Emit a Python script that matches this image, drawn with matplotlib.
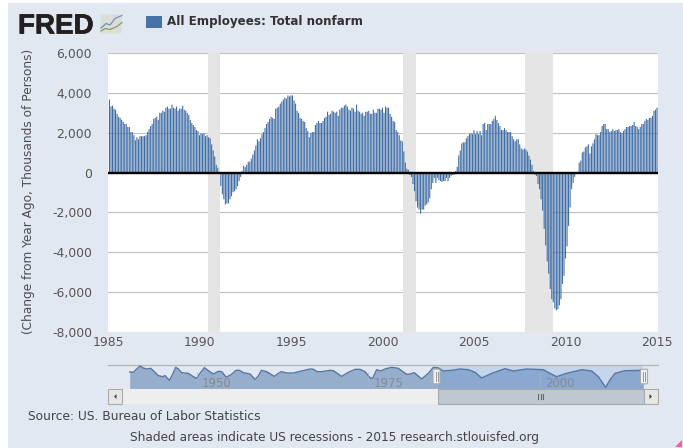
import numpy as np
import matplotlib
matplotlib.use("Agg")
import matplotlib.pyplot as plt
import matplotlib.patheffects as pe
from matplotlib.patches import Rectangle, FancyBboxPatch, Polygon

W, H = 683, 448

# change from year ago, thousands of persons, one row per year 1985-2014
yoy_change = [
    3655, 3315, 3350, 3195, 3145, 2940, 2790, 2735, 2635, 2535, 2430, 2430,
    2280, 2280, 2025, 2025, 1870, 1615, 1770, 1665, 1820, 1820, 1820, 1820,
    1870, 2025, 2175, 2330, 2430, 2685, 2735, 2790, 2635, 2990, 2990, 3095,
    3045, 3245, 3300, 3195, 3195, 3400, 3245, 3195, 3300, 3095, 3195, 3195,
    3350, 3145, 3095, 2990, 2890, 2635, 2480, 2380, 2280, 2125, 2075, 1870,
    1970, 1920, 1970, 1820, 1870, 1770, 1715, 1410, 1105, 800, 390, 240,
    -70, -680, -1090, -1340, -1600, -1545, -1545, -1340, -1190, -985, -935, -835,
    -680, -425, -220, 85, 340, 270, 390, 545, 545, 695, 900, 1105,
    1360, 1665, 1565, 1715, 1920, 2025, 2225, 2430, 2535, 2685, 2790, 2735,
    2685, 3195, 3245, 3300, 3450, 3555, 3655, 3755, 3705, 3860, 3810, 3860,
    3860, 3605, 3450, 3095, 2990, 2735, 2685, 2585, 2535, 2225, 2075, 1770,
    1970, 2025, 2025, 2380, 2480, 2585, 2480, 2480, 2585, 2735, 2790, 3045,
    2890, 2940, 3095, 3045, 2990, 3045, 2840, 3145, 3245, 3245, 3350, 3400,
    3300, 3145, 3095, 3245, 3195, 3045, 3400, 3095, 3045, 2940, 2990, 2840,
    3045, 3045, 3095, 2940, 2940, 3145, 2990, 2990, 3195, 3195, 3145, 3245,
    2990, 3300, 3245, 3245, 2940, 2790, 2585, 2535, 2125, 2025, 1870, 1615,
    1565, 1055, 495, 185, 135, -120, -220, -580, -935, -1445, -1750, -1855,
    -2055, -1855, -1855, -1650, -1600, -1495, -1290, -835, -525, -270, -525, -270,
    -375, -425, -475, -425, -425, -270, -425, -270, -170, -120, -120, 85,
    290, 850, 1105, 1460, 1515, 1515, 1715, 1820, 1920, 1970, 1920, 2125,
    1920, 2075, 1920, 2075, 1870, 2430, 2480, 2125, 2430, 2430, 2430, 2585,
    2685, 2840, 2635, 2480, 2330, 2125, 2125, 2225, 2125, 2025, 2025, 2025,
    1820, 1665, 1565, 1665, 1665, 1410, 1205, 1155, 1205, 1155, 1055, 850,
    645, 390, 85, -120, -170, -580, -835, -1345, -1905, -2820, -3640, -4455,
    -5065, -5830, -6340, -6495, -6800, -6900, -6850, -6650, -6340, -5575, -5170, -4300,
    -3690, -2670, -1750, -835, -525, -220, -30, 10, 495, 595, 1005, 1055,
    1260, 1310, 1410, 950, 1310, 1460, 1665, 1920, 1870, 1870, 2025, 2330,
    2430, 2430, 2175, 2175, 2025, 2075, 2175, 2075, 2125, 2125, 2175, 2025,
    1970, 2075, 2175, 2280, 2280, 2330, 2330, 2380, 2535, 2330, 2280, 2175,
    2280, 2430, 2430, 2585, 2685, 2635, 2735, 2735, 2840, 3095, 3145, 3250,
]

recessions = [(1990.48, 1991.14), (2001.10, 2001.81), (2007.80, 2009.30)]
x_ticks = [1985, 1990, 1995, 2000, 2005, 2010, 2015]
y_ticks = [-8000, -6000, -4000, -2000, 0, 2000, 4000, 6000]

# navigator overview, long history (height in arbitrary units)
nav_years = [
    1940.25, 1940.8, 1941.27, 1941.75, 1942.24, 1942.72, 1943.3, 1943.93, 1944.42, 1945.05,
    1945.39, 1946.02, 1946.5, 1946.94, 1947.33, 1947.8, 1948.79, 1949.51, 1950.0, 1950.48,
    1951.12, 1951.7, 1952.43, 1953.15, 1953.64, 1954.27, 1954.95, 1955.72, 1956.21, 1956.79,
    1957.76, 1958.49, 1958.98, 1959.41, 1960.19, 1961.26, 1962.28, 1963.1, 1964.07, 1965.28,
    1966.5, 1966.98, 1967.56, 1968.2, 1969.41, 1969.89, 1971.11, 1972.08, 1973.05, 1973.77,
    1974.5, 1975.23, 1975.62, 1976.2, 1976.78, 1977.41, 1978.38, 1979.35, 1980.56, 1981.05,
    1981.68, 1982.75, 1983.72, 1984.45, 1985.08, 1985.9, 1987.11, 1988.33, 1989.54, 1990.51,
    1991.48, 1992.94, 1994.88, 1996.09, 1998.03, 2000.46, 2001.43, 2002.4, 2003.85, 2006.04,
    2007.49, 2008.46, 2009.53, 2010.16, 2010.89, 2012.34, 2015.0,
]
nav_level = [
    51, 50, 60, 69, 63, 60, 62, 50, 40, 37,
    40, 26, 44, 65, 60, 49, 47, 37, 32, 47,
    64, 55, 45, 53, 52, 36, 42, 56, 56, 49,
    45, 29, 39, 56, 52, 38, 52, 48, 48, 54,
    60, 59, 52, 52, 56, 55, 38, 50, 59, 59,
    52, 34, 32, 58, 54, 60, 65, 62, 44, 45,
    49, 30, 47, 65, 64, 54, 56, 60, 58, 50,
    33, 47, 61, 54, 60, 58, 47, 37, 47, 58,
    54, 37, 5, 27, 47, 55, 56,
]
nav_labels = [1950, 1975, 2000]
nav_select = (1985.08, 2015.0)


def axes_px(x0, y0, x1, y1, **kw):
    # pixel box, y measured from the top of the image
    return fig.add_axes([x0 / W, 1 - y1 / H, (x1 - x0) / W, (y1 - y0) / H], **kw)


fig = plt.figure(figsize=(W / 100, H / 100), dpi=100, facecolor="white")

# page layer in pixel coordinates
page = axes_px(0, 0, W, H)
page.set_xlim(0, W)
page.set_ylim(H, 0)
page.axis("off")
page.add_patch(Rectangle((8, 3), W - 8, H - 3, fc="#e1e8f1", ec="none"))

# logo
logo = page.text(18, 33.5, "FRED", family="Liberation Sans", weight="bold", fontsize=20, color="#231f20", va="baseline")
logo.set_path_effects([pe.withStroke(linewidth=0.5, foreground="#231f20")])
page.add_patch(FancyBboxPatch((101, 15), 20, 18, boxstyle="round,pad=0.5,rounding_size=2", fc="#dcdcd8", ec="none"))
page.plot([101, 106, 110, 115, 122], [28, 23.5, 25, 18.5, 15.5], color="#6f93b8", lw=0.9)
page.plot([101, 105, 110, 117, 122], [31, 28.5, 29.5, 26.5, 22.5], color="#7fa35a", lw=0.9)

# legend
page.add_patch(Rectangle((146, 16), 16, 12, fc="#4572A7", ec="none"))
page.text(167, 22, "All Employees: Total nonfarm", fontsize=8.6, weight="bold", color="#333333", va="center")

page.text(29, 191, "(Change from Year Ago, Thousands of Persons)", fontsize=8.7, color="#4d4d4d",
          rotation=90, ha="center", va="center")
page.text(28.5, 417, "Source: US. Bureau of Labor Statistics", fontsize=8.85, color="#444444", va="center")
page.text(130, 438, "Shaded areas indicate US recessions - 2015 research.stlouisfed.org", fontsize=8.7,
          color="#444444", va="center")

# main chart
ax = axes_px(108, 52.7, 658, 332.3)
ax.set_facecolor("white")
for s in ax.spines.values():
    s.set_visible(False)

x = 1985.08 + np.arange(len(yoy_change)) / 12
for start, end in recessions:
    ax.axvspan(start, end, color="#e5e5e5", lw=0, zorder=1)
ax.set_axisbelow(True)
ax.yaxis.grid(True, color="#c0c0c0", lw=0.8, zorder=2)
ax.bar(x, yoy_change, width=0.06, color="#3f6ca5", lw=0, snap=False, zorder=3)
ax.axhline(0, color="black", lw=1.7, zorder=4)

ax.set_xlim(1985, 2015.05)
ax.set_ylim(-8000, 6000)
ax.set_xticks(x_ticks)
ax.set_yticks(y_ticks)
ax.set_yticklabels([f"{t:,}" for t in y_ticks])
ax.tick_params(axis="both", length=0, labelsize=8.9, labelcolor="#555555")
ax.tick_params(axis="y", pad=11.5)
ax.tick_params(axis="x", pad=3)

# navigator
nav = axes_px(108, 365, 658, 389)
nav.patch.set_alpha(0)
nav.set_xlim(1937.09, 2017.15)
nav.set_ylim(0, 72)
nav.set_xticks([])
nav.set_yticks([])
for name, s in nav.spines.items():
    s.set_visible(name == "top")
nav.spines["top"].set_color("#b5b5b5")
nav.spines["top"].set_linewidth(0.9)
nav.axvspan(nav_select[0], nav_select[1], color="#c5d6ec", lw=0, zorder=1)
nav.fill_between(nav_years, nav_level, 0, color="#96adcb", lw=0, zorder=2)
years_sel = np.array(nav_years)
level_sel = np.array(nav_level)
keep = years_sel >= nav_select[0]
nav.fill_between(years_sel[keep], level_sel[keep], 0, color="#8ba9d0", lw=0, zorder=2)
nav.plot(nav_years, nav_level, color="#5577a3", lw=1, zorder=3)
for yr in nav_labels:
    nav.axvline(yr, ymax=0.72, color="#a3b6cf", lw=0.4, zorder=3)
    nav.text(yr + 0.7, 16, str(yr), fontsize=8.4, color="#858b92", va="center", zorder=4)

# scrollbar, in page pixels, above the navigator
bar = axes_px(0, 0, W, H)
bar.patch.set_alpha(0)
bar.set_xlim(0, W)
bar.set_ylim(H, 0)
bar.axis("off")
bar.add_patch(Rectangle((122, 389), 522, 15, fc="#eeeeee", ec="none"))
bar.add_patch(Rectangle((437.5, 389), 206, 15, fc="#bfc8d0", ec="#a9a9a9", lw=0.8))
for bx0, tri in [(108, [(116.5, 394), (116.5, 399), (114, 396.5)]),
                 (644, [(649.5, 394), (649.5, 399), (652, 396.5)])]:
    bar.add_patch(Rectangle((bx0, 389), 14, 15, fc="#e6e6e6", ec="#ababab", lw=0.8))
    bar.add_patch(Polygon(tri, fc="#444444", ec="none"))
for gx in (538, 540.5, 543):
    bar.plot([gx, gx], [394, 399], color="#666666", lw=0.8)
for hx in (436.5, 644):
    bar.add_patch(FancyBboxPatch((hx - 3.2, 369.5), 6.4, 14, boxstyle="round,pad=0.3,rounding_size=1",
                                 fc="#f2f2f2", ec="#aaaaaa", lw=0.8))
    for dx in (-1, 1):
        bar.plot([hx + dx, hx + dx], [372, 381], color="#999999", lw=0.7)

# resize grip in the corner
bar.add_patch(Polygon([(682, 440), (682, 447), (675, 447)], fc="#f3609f", ec="none"))

fig.savefig("out.png", dpi=100, facecolor="white")
